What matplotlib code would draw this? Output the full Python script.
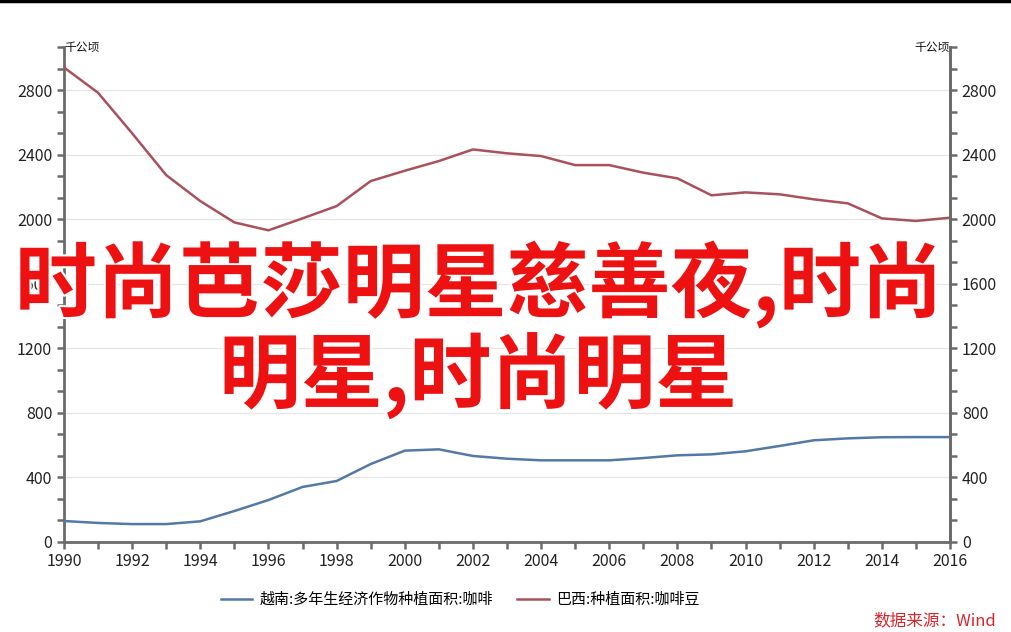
import matplotlib
matplotlib.use("Agg")
import matplotlib.pyplot as plt
import matplotlib.patheffects as pe
from matplotlib.ticker import MultipleLocator
import numpy as np

plt.rcParams['font.family'] = ['Noto Sans CJK SC', 'DejaVu Sans']

years = list(range(1990, 2017))
vietnam = [130, 118, 111, 111, 128, 192, 260, 341, 378, 483, 566, 574, 533, 516, 506, 506, 506,
           520, 537, 543, 562, 595, 630, 642, 649, 650, 650]
brazil = [2940, 2783, 2532, 2273, 2112, 1980, 1931, 2005, 2081, 2236, 2300, 2360, 2432, 2408,
          2391, 2335, 2335, 2288, 2253, 2148, 2166, 2154, 2123, 2098, 2005, 1989, 2009]
name_vn = "越南:多年生经济作物种植面积:咖啡"
name_br = "巴西:种植面积:咖啡豆"
unit = "千公顷"
source = "数据来源：Wind"
overlay1 = "时尚芭莎明星慈善夜,时尚"
overlay2 = "明星,时尚明星"

c_vn = "#5479a6"
c_br = "#a9515c"
axc = "#6b6b6b"

fig = plt.figure(figsize=(10.11, 6.32), dpi=100)
ax = fig.add_axes([64/1011, 1-542/632, (950-64)/1011, (542-47)/632])
ax.set_xlim(1990, 2016)
ax.set_ylim(0, 3066.67)

ax.plot(years, vietnam, color=c_vn, lw=1.8, label=name_vn, zorder=3)
ax.plot(years, brazil, color=c_br, lw=1.8, label=name_br, zorder=3)

ax.yaxis.set_major_locator(MultipleLocator(400))
ax.yaxis.set_minor_locator(MultipleLocator(400/3))
ax.xaxis.set_major_locator(MultipleLocator(2))
ax.xaxis.set_minor_locator(MultipleLocator(1))
ax.grid(axis='y', which='major', color='#e6e6e6', lw=0.9, zorder=0)

ax.spines['top'].set_visible(False)
for s in ['left', 'right', 'bottom']:
    ax.spines[s].set_color(axc)
    ax.spines[s].set_linewidth(2)

ax.tick_params(axis='both', which='both', color=axc, width=1.8, length=5, labelsize=11.5,
               labelcolor='#222222')
ax.tick_params(axis='x', pad=3)
ax.xaxis.set_major_formatter(matplotlib.ticker.FuncFormatter(lambda v, p: f"{int(v)}"))

ax2 = ax.twinx()
ax2.set_ylim(ax.get_ylim())
ax2.yaxis.set_major_locator(MultipleLocator(400))
ax2.yaxis.set_minor_locator(MultipleLocator(400/3))
for s in ['top', 'left', 'bottom']:
    ax2.spines[s].set_visible(False)
ax2.spines['right'].set_color(axc)
ax2.spines['right'].set_linewidth(2)
ax2.tick_params(axis='y', which='both', color=axc, width=1.8, length=5, labelsize=11.5,
                labelcolor='#222222')

ax.text(0.0, 1.0, unit, transform=ax.transAxes, ha='left', va='center', fontsize=8.5, color='#111111')
ax2.text(1.0, 1.0, unit, transform=ax2.transAxes, ha='right', va='center', fontsize=8.5, color='#111111')

leg = ax.legend(loc='upper center', bbox_to_anchor=(0.447, -0.075), ncol=2, frameon=False,
                fontsize=10.8, handlelength=2.1, columnspacing=1.6, handletextpad=0.5)

fig.text(0.985, 0.004, source, ha='right', va='bottom', fontsize=12, color='#d8262c',
         style='italic')

fig.add_artist(plt.Line2D([0, 1], [0.999, 0.999], color='black', lw=2.5, transform=fig.transFigure))

stroke = [pe.withStroke(linewidth=3, foreground='white')]
fig.text(0.474, 1-285/632, overlay1, ha='center', va='center', fontsize=59, fontweight='bold',
         color='#ee1111', path_effects=stroke, zorder=10)
fig.text(0.473, 1-376/632, overlay2, ha='center', va='center', fontsize=59, fontweight='bold',
         color='#ee1111', path_effects=stroke, zorder=10)

fig.savefig("out.png", dpi=100)
